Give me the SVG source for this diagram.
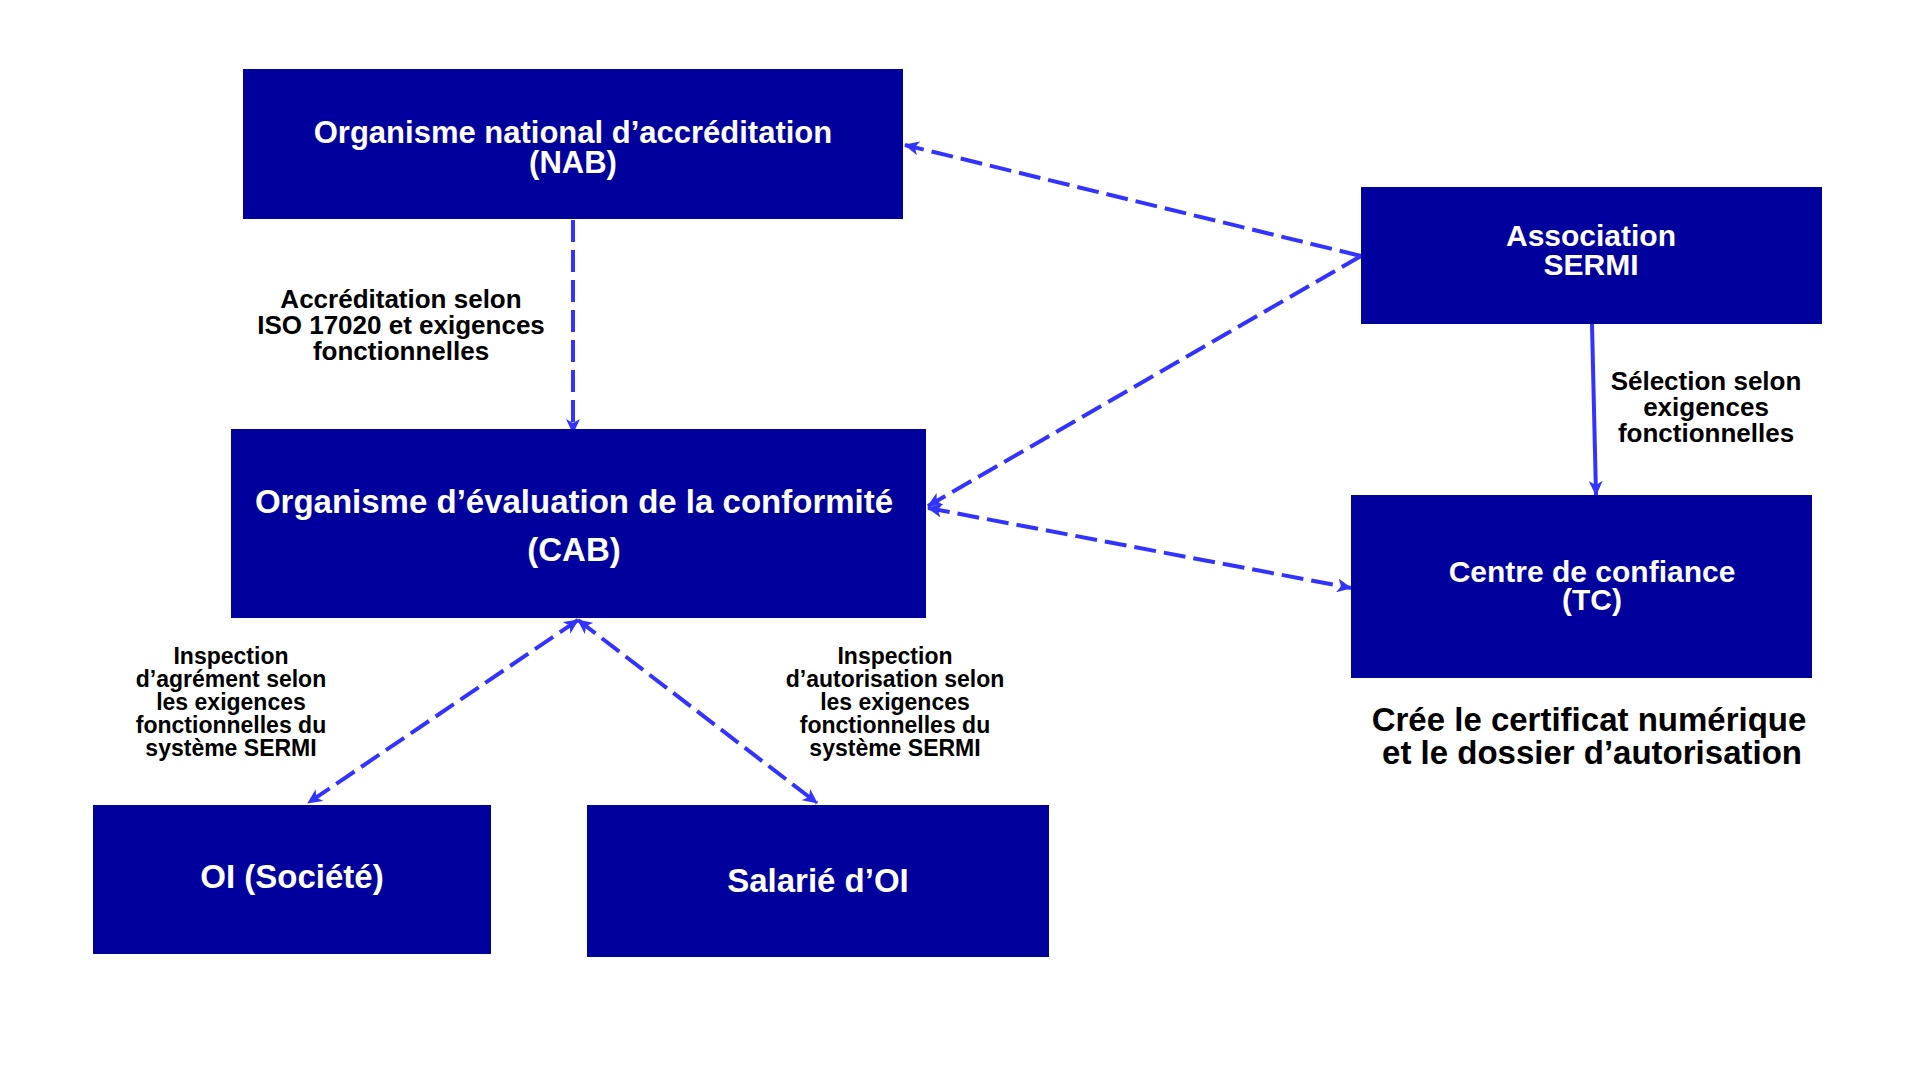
<svg xmlns="http://www.w3.org/2000/svg" width="1920" height="1080" viewBox="0 0 1920 1080">
<style>
.box{fill:#00009C;}
.bt{font-family:"Liberation Sans",Arial,sans-serif;font-weight:bold;fill:#ffffff;text-anchor:middle;}
.lbl{font-family:"Liberation Sans",Arial,sans-serif;font-weight:bold;fill:#000000;text-anchor:middle;}
.dash{fill:none;stroke:#3333FF;stroke-width:4;stroke-dasharray:22 8;}
.solid{fill:none;stroke:#3333FF;stroke-width:4;}
</style>
<defs>
<marker id="ah" markerUnits="userSpaceOnUse" markerWidth="16" markerHeight="14" refX="14" refY="7" orient="auto-start-reverse">
<path d="M0,0 L15,7 L0,14 L4,7 z" fill="#3333FF"/>
</marker>
</defs>
<rect width="1920" height="1080" fill="#ffffff"/>

<g id="connectors">
<line class="dash" x1="573" y1="220" x2="573" y2="433" marker-end="url(#ah)"/>
<line class="dash" x1="1361" y1="256" x2="905" y2="145" marker-end="url(#ah)"/>
<line class="dash" x1="1361" y1="256" x2="928" y2="506" marker-end="url(#ah)"/>
<line class="dash" x1="928" y1="508" x2="1351" y2="588" marker-start="url(#ah)" marker-end="url(#ah)"/>
<line class="dash" x1="578" y1="620" x2="308" y2="803" marker-start="url(#ah)" marker-end="url(#ah)"/>
<line class="dash" x1="578" y1="620" x2="817" y2="803" marker-start="url(#ah)" marker-end="url(#ah)"/>
<line class="solid" x1="1592" y1="324" x2="1596" y2="495" marker-end="url(#ah)"/>
</g>

<g id="nab">
<rect class="box" x="243" y="69" width="660" height="150"/>
<text class="bt" font-size="31" x="573" y="143">Organisme national d’accréditation</text>
<text class="bt" font-size="31" x="573" y="173">(NAB)</text>
</g>

<g id="sermi">
<rect class="box" x="1361" y="187" width="461" height="137"/>
<text class="bt" font-size="30" x="1591" y="246">Association</text>
<text class="bt" font-size="30" x="1591" y="275">SERMI</text>
</g>

<g id="cab">
<rect class="box" x="231" y="429" width="695" height="189"/>
<text class="bt" font-size="33" x="574" y="513">Organisme d’évaluation de la conformité</text>
<text class="bt" font-size="33" x="574" y="561">(CAB)</text>
</g>

<g id="tc">
<rect class="box" x="1351" y="495" width="461" height="183"/>
<text class="bt" font-size="30" x="1592" y="582">Centre de confiance</text>
<text class="bt" font-size="30" x="1592" y="610">(TC)</text>
</g>

<g id="oi">
<rect class="box" x="93" y="805" width="398" height="149"/>
<text class="bt" font-size="33" x="292" y="888">OI (Société)</text>
</g>

<g id="salarie">
<rect class="box" x="587" y="805" width="462" height="152"/>
<text class="bt" font-size="33" x="818" y="892">Salarié d’OI</text>
</g>

<g id="labels">
<text class="lbl" font-size="26" x="401" y="308">Accréditation selon</text>
<text class="lbl" font-size="26" x="401" y="334">ISO 17020 et exigences</text>
<text class="lbl" font-size="26" x="401" y="360">fonctionnelles</text>

<text class="lbl" font-size="26" x="1706" y="390">Sélection selon</text>
<text class="lbl" font-size="26" x="1706" y="416">exigences</text>
<text class="lbl" font-size="26" x="1706" y="442">fonctionnelles</text>

<text class="lbl" font-size="23" x="231" y="664">Inspection</text>
<text class="lbl" font-size="23" x="231" y="687">d’agrément selon</text>
<text class="lbl" font-size="23" x="231" y="710">les exigences</text>
<text class="lbl" font-size="23" x="231" y="733">fonctionnelles du</text>
<text class="lbl" font-size="23" x="231" y="756">système SERMI</text>

<text class="lbl" font-size="23" x="895" y="664">Inspection</text>
<text class="lbl" font-size="23" x="895" y="687">d’autorisation selon</text>
<text class="lbl" font-size="23" x="895" y="710">les exigences</text>
<text class="lbl" font-size="23" x="895" y="733">fonctionnelles du</text>
<text class="lbl" font-size="23" x="895" y="756">système SERMI</text>

<text class="lbl" font-size="33" x="1589" y="731">Crée le certificat numérique</text>
<text class="lbl" font-size="33" x="1592" y="764">et le dossier d’autorisation</text>
</g>
</svg>
